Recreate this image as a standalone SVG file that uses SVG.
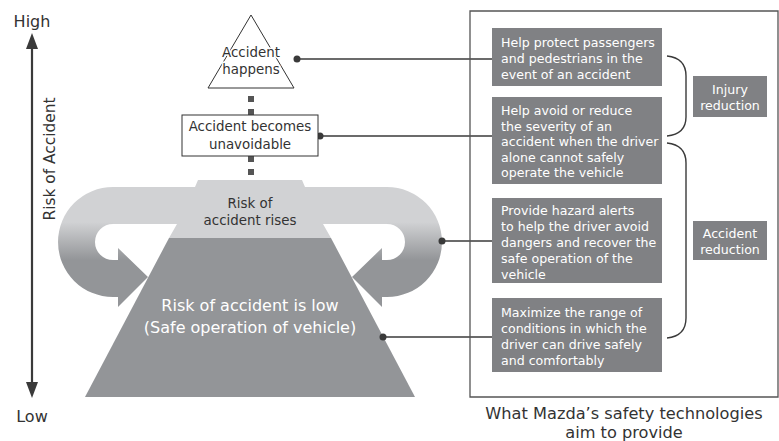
<svg xmlns="http://www.w3.org/2000/svg" width="779" height="441" viewBox="0 0 779 441">
<style>
text{font-family:"DejaVu Sans","Open Sans","Liberation Sans",sans-serif}
.dk{fill:#333333}
.wt{fill:#ffffff}
.box{fill:#808184}
.bt{font-size:12.6px;fill:#ffffff}
.ln{stroke:#3a3a3a;stroke-width:1.6;fill:none}
.dot{fill:#3a3a3a}
.br{stroke:#3a3a3a;stroke-width:1.4;fill:none}
.ah{fill:#3a3a3a}
</style>
<defs>
<linearGradient id="hs" gradientUnits="userSpaceOnUse" x1="0" y1="222" x2="0" y2="260">
<stop offset="0" stop-color="#d1d2d4"/>
<stop offset="1" stop-color="#939598"/>
</linearGradient>
</defs>
<rect width="779" height="441" fill="#ffffff"/>

<g id="axis">
<line x1="32" y1="46" x2="32" y2="385" stroke="#3a3a3a" stroke-width="2.2"/>
<path class="ah" d="M32,33 L38,49 L26,49 Z"/>
<path class="ah" d="M32,398 L38,382 L26,382 Z"/>
<text x="32" y="27" font-size="16" text-anchor="middle" class="dk">High</text>
<text x="32" y="422" font-size="16" text-anchor="middle" class="dk">Low</text>
<text transform="translate(55,159) rotate(-90)" font-size="15.4" text-anchor="middle" class="dk">Risk of Accident</text>
</g>

<g id="risk-rises">
<path d="M113,187 A55,55 0 0 0 113,297 L118,297 L118,307 L148,277 L118,248 L118,260 L113,260 A18,18 0 0 1 113,224 Z" fill="url(#hs)"/>
<path d="M387,187 A55,55 0 0 1 387,297 L382,297 L382,307 L352,277 L382,248 L382,260 L387,260 A18,18 0 0 0 387,224 Z" fill="url(#hs)"/>
<path d="M198,180 L302,180 L305,187 L387,187 L387,224 L323,224 L331,238 L169,238 L177,224 L113,224 L113,187 L195,187 Z" fill="#d1d2d4"/>
<text x="250" y="208" font-size="13.4" text-anchor="middle" class="dk">Risk of</text>
<text x="250" y="225" font-size="13.4" text-anchor="middle" class="dk">accident rises</text>
</g>

<g id="risk-low">
<path d="M169,238 L331,238 L415,397 L85,397 Z" fill="#939598"/>
<text x="250" y="311" font-size="16" text-anchor="middle" class="wt">Risk of accident is low</text>
<text x="250" y="333" font-size="16" text-anchor="middle" class="wt">(Safe operation of vehicle)</text>
</g>

<g id="connectors">
<rect x="248" y="96" width="6" height="6" fill="#555"/>
<rect x="248" y="109" width="6" height="6" fill="#555"/>
<rect x="248" y="156" width="6" height="6" fill="#555"/>
<rect x="248" y="169" width="6" height="6" fill="#555"/>
<line class="ln" x1="297" y1="59" x2="492" y2="59"/>
<circle class="dot" cx="297" cy="59" r="3.5"/>
<line class="ln" x1="320" y1="136" x2="492" y2="136"/>
<circle class="dot" cx="320" cy="136" r="3.5"/>
<line class="ln" x1="442" y1="241" x2="492" y2="241"/>
<circle class="dot" cx="442" cy="241" r="3.5"/>
<line class="ln" x1="383" y1="337" x2="492" y2="337"/>
<circle class="dot" cx="383" cy="337" r="3.5"/>
</g>

<g id="accident-happens">
<path d="M251,15 L294,88 L208,88 Z" fill="#ffffff" stroke="#333" stroke-width="1"/>
<text x="251" y="57" font-size="13.4" text-anchor="middle" class="dk" stroke="#fff" stroke-width="3" paint-order="stroke">Accident</text>
<text x="251" y="74" font-size="13.4" text-anchor="middle" class="dk" stroke="#fff" stroke-width="3" paint-order="stroke">happens</text>
</g>

<g id="accident-unavoidable">
<rect x="182" y="115" width="136" height="41" fill="#ffffff" stroke="#333" stroke-width="1"/>
<text x="250" y="131" font-size="13.4" text-anchor="middle" class="dk">Accident becomes</text>
<text x="250" y="149" font-size="13.4" text-anchor="middle" class="dk">unavoidable</text>
</g>

<g id="panel">
<path d="M470,397 L470,11 L778,11 L778,397 Z" fill="none" stroke="#555" stroke-width="1.3"/>
<text x="624" y="418.5" font-size="16.2" text-anchor="middle" class="dk">What Mazda’s safety technologies</text>
<text x="624" y="438" font-size="16.2" text-anchor="middle" class="dk">aim to provide</text>
</g>

<g id="box-protect">
<rect class="box" x="492" y="28" width="170" height="58"/>
<text class="bt" x="501" y="47">Help protect passengers</text>
<text class="bt" x="501" y="63">and pedestrians in the</text>
<text class="bt" x="501" y="78.5">event of an accident</text>
</g>

<g id="box-avoid">
<rect class="box" x="492" y="97" width="170" height="87"/>
<text class="bt" x="501" y="115">Help avoid or reduce</text>
<text class="bt" x="501" y="130.5">the severity of an</text>
<text class="bt" x="501" y="146">accident when the driver</text>
<text class="bt" x="501" y="161.5">alone cannot safely</text>
<text class="bt" x="501" y="177">operate the vehicle</text>
</g>

<g id="box-alerts">
<rect class="box" x="492" y="198" width="170" height="85"/>
<text class="bt" x="501" y="215">Provide hazard alerts</text>
<text class="bt" x="501" y="231">to help the driver avoid</text>
<text class="bt" x="501" y="247">dangers and recover the</text>
<text class="bt" x="501" y="263">safe operation of the</text>
<text class="bt" x="501" y="279">vehicle</text>
</g>

<g id="box-maximize">
<rect class="box" x="492" y="298" width="170" height="74"/>
<text class="bt" x="501" y="317">Maximize the range of</text>
<text class="bt" x="501" y="333">conditions in which the</text>
<text class="bt" x="501" y="349">driver can drive safely</text>
<text class="bt" x="501" y="365">and comfortably</text>
</g>

<g id="braces">
<path class="br" d="M667,56 Q686,58 686,76 L686,117 Q686,134 667,136"/>
<path class="br" d="M667,143 Q686,145 686,163 L686,318 Q686,336 667,338"/>
</g>

<g id="injury-reduction">
<rect class="box" x="693" y="76" width="74" height="41"/>
<text class="bt" x="730" y="94" text-anchor="middle">Injury</text>
<text class="bt" x="730" y="110" text-anchor="middle">reduction</text>
</g>

<g id="accident-reduction">
<rect class="box" x="693" y="221" width="74" height="39"/>
<text class="bt" x="730" y="238" text-anchor="middle">Accident</text>
<text class="bt" x="730" y="254" text-anchor="middle">reduction</text>
</g>
</svg>
